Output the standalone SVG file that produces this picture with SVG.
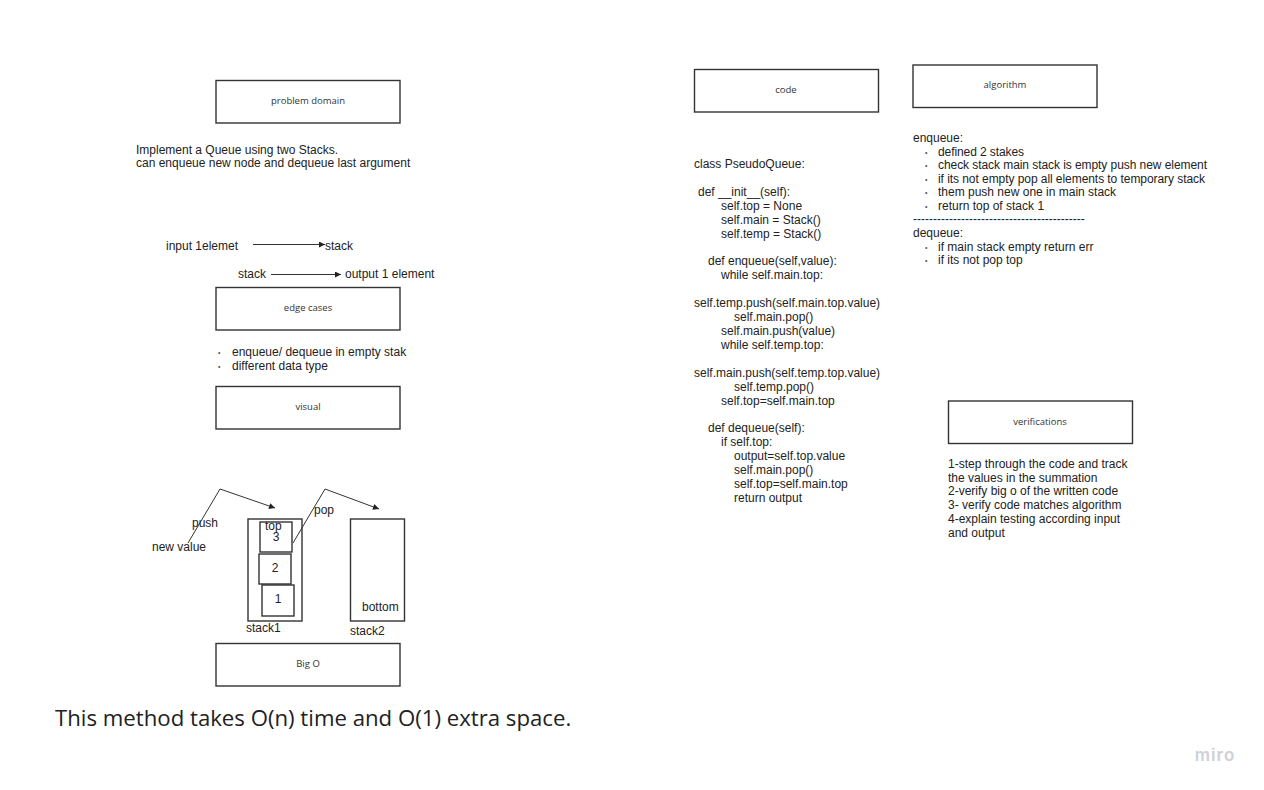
<svg xmlns="http://www.w3.org/2000/svg" width="1264" height="790" viewBox="0 0 1264 790">
<style>
.box{fill:#fff;stroke:#333;stroke-width:1.4}
.bl{font-family:"Open Sans","Noto Sans",sans-serif;font-size:9.5px;fill:#333;text-anchor:middle}
.t{font-family:"Liberation Sans",Arial,sans-serif;font-size:12px;fill:#222}
.b{font-family:"Liberation Sans",Arial,sans-serif;font-size:7px;fill:#555}
.ln{fill:none;stroke:#333;stroke-width:1}
.big{font-family:"Open Sans","Noto Sans",sans-serif;font-size:22.2px;fill:#222}
</style>
<defs>
<marker id="ah" viewBox="0 0 10 10" refX="10" refY="5" markerWidth="10" markerHeight="6" markerUnits="userSpaceOnUse" orient="auto">
<path d="M0,0 L10,5 L0,10 z" fill="#222"/>
</marker>
</defs>
<rect width="1264" height="790" fill="#fff"/>

<g id="problem-domain">
<rect class="box" x="216" y="80.5" width="184" height="42.5"/>
<text class="bl" x="308" y="104">problem domain</text>
<text class="t" x="136" y="154">Implement a Queue using two Stacks.</text>
<text class="t" x="136" y="167">can enqueue new node and dequeue last argument</text>
</g>

<g id="io-flow">
<text class="t" x="166" y="250">input 1elemet</text>
<text class="t" x="325" y="250">stack</text>
<text class="t" x="238" y="278">stack</text>
<text class="t" x="345" y="278">output 1 element</text>
</g>

<g id="edge-cases">
<rect class="box" x="216" y="287.5" width="184" height="42.5"/>
<text class="bl" x="308" y="311">edge cases</text>
<text class="b" x="218" y="355">•</text>
<text class="t" x="232" y="356">enqueue/ dequeue in empty stak</text>
<text class="b" x="218" y="369">•</text>
<text class="t" x="232" y="370">different data type</text>
</g>

<g id="visual">
<rect class="box" x="216" y="386.5" width="184" height="42.5"/>
<text class="bl" x="308" y="410">visual</text>
</g>

<g id="stack1">
<rect class="box" x="248" y="519" width="54" height="102"/>
<rect class="box" x="260" y="522" width="32" height="30"/>
<rect class="box" x="259" y="554" width="32" height="30"/>
<rect class="box" x="262" y="585" width="32" height="31"/>
<text class="t" x="276" y="541" text-anchor="middle">3</text>
<text class="t" x="275" y="572" text-anchor="middle">2</text>
<text class="t" x="278" y="603" text-anchor="middle">1</text>
<text class="t" x="265" y="530">top</text>
<text class="t" x="246" y="632">stack1</text>
</g>

<g id="stack2">
<rect class="box" x="350.5" y="519" width="54" height="102"/>
<text class="t" x="362" y="611">bottom</text>
<text class="t" x="350" y="635">stack2</text>
</g>

<g id="visual-labels">
<text class="t" x="192" y="527">push</text>
<text class="t" x="152" y="551">new value</text>
<text class="t" x="314" y="514">pop</text>
</g>

<g id="connectors">
<line class="ln" x1="253" y1="244.5" x2="325" y2="244.5" marker-end="url(#ah)"/>
<line class="ln" x1="271" y1="274.5" x2="341" y2="274.5" marker-end="url(#ah)"/>
<polyline class="ln" points="188,543 220,489 275,508" marker-end="url(#ah)"/>
<polyline class="ln" points="293,543 325,489 379,509" marker-end="url(#ah)"/>
</g>

<g id="big-o">
<rect class="box" x="216" y="643.5" width="184" height="42.5"/>
<text class="bl" x="308" y="667">Big O</text>
<text class="big" x="55" y="726">This method takes O(n) time and O(1) extra space.</text>
</g>

<g id="code">
<rect class="box" x="694.5" y="69.5" width="184" height="42.5"/>
<text class="bl" x="786" y="93">code</text>
<text class="t" x="694" y="168">class PseudoQueue:</text>
<text class="t" x="698" y="196">def __init__(self):</text>
<text class="t" x="721" y="210">self.top = None</text>
<text class="t" x="721" y="224">self.main = Stack()</text>
<text class="t" x="721" y="238">self.temp = Stack()</text>
<text class="t" x="708" y="265">def enqueue(self,value):</text>
<text class="t" x="721" y="279">while self.main.top:</text>
<text class="t" x="694" y="307">self.temp.push(self.main.top.value)</text>
<text class="t" x="734" y="321">self.main.pop()</text>
<text class="t" x="721" y="335">self.main.push(value)</text>
<text class="t" x="721" y="349">while self.temp.top:</text>
<text class="t" x="694" y="377">self.main.push(self.temp.top.value)</text>
<text class="t" x="734" y="391">self.temp.pop()</text>
<text class="t" x="721" y="405">self.top=self.main.top</text>
<text class="t" x="708" y="432">def dequeue(self):</text>
<text class="t" x="721" y="446">if self.top:</text>
<text class="t" x="734" y="460">output=self.top.value</text>
<text class="t" x="734" y="474">self.main.pop()</text>
<text class="t" x="734" y="488">self.top=self.main.top</text>
<text class="t" x="734" y="502">return output</text>
</g>

<g id="algorithm">
<rect class="box" x="913" y="65" width="184" height="42.5"/>
<text class="bl" x="1005" y="88">algorithm</text>
<text class="t" x="913" y="142">enqueue:</text>
<text class="b" x="925" y="155">•</text>
<text class="t" x="938" y="156" textLength="86">defined 2 stakes</text>
<text class="b" x="925" y="168">•</text>
<text class="t" x="938" y="169" textLength="269">check stack main stack is empty push new element</text>
<text class="b" x="925" y="182">•</text>
<text class="t" x="938" y="183" textLength="267">if its not empty pop all elements to temporary stack</text>
<text class="b" x="925" y="195">•</text>
<text class="t" x="938" y="196">them push new one in main stack</text>
<text class="b" x="925" y="209">•</text>
<text class="t" x="938" y="210">return top of stack 1</text>
<text class="t" x="913" y="223">-------------------------------------------</text>
<text class="t" x="913" y="237">dequeue:</text>
<text class="b" x="925" y="250">•</text>
<text class="t" x="938" y="251">if main stack empty return err</text>
<text class="b" x="925" y="263">•</text>
<text class="t" x="938" y="264">if its not pop top</text>
</g>

<g id="verifications">
<rect class="box" x="948.5" y="401" width="184" height="42.5"/>
<text class="bl" x="1040" y="425">verifications</text>
<text class="t" x="948" y="468">1-step through the code and track</text>
<text class="t" x="948" y="482">the values in the summation</text>
<text class="t" x="948" y="495">2-verify big o of the written code</text>
<text class="t" x="948" y="509">3- verify code matches algorithm</text>
<text class="t" x="948" y="523">4-explain testing according input</text>
<text class="t" x="948" y="537">and output</text>
</g>

<g id="logo">
<text x="1215" y="761" text-anchor="middle" font-family="Inter,'Open Sans',sans-serif" font-size="17" font-weight="600" fill="#cfd0d8" letter-spacing="1">miro</text>
</g>
</svg>
